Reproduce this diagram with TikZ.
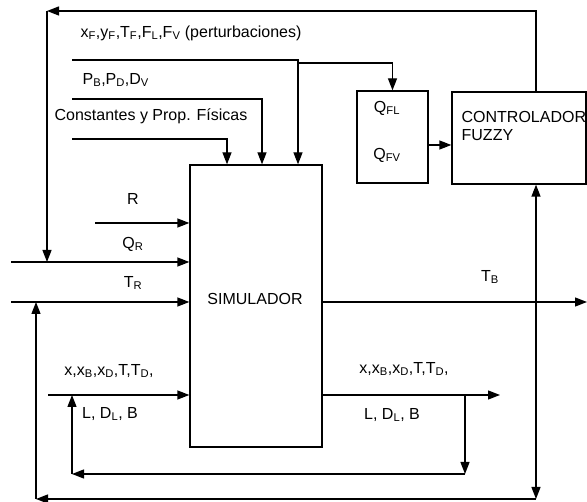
\documentclass[tikz,border=0pt]{standalone}
\usepackage{fontspec}
\setmainfont{Liberation Sans}
\usetikzlibrary{arrows.meta,positioning}
\tikzset{
  blk/.style={draw, line width=1.3pt, inner sep=0pt},
  lbl/.style={inner sep=0pt, font=\fontsize{16}{18}\selectfont},
  flow/.style={line width=1.3pt, -{Triangle[length=12pt,width=9pt]}},
}
\begin{document}
\begin{tikzpicture}[x=1pt, y=-1pt, line width=1.3pt]
\useasboundingbox (0,0) rectangle (587,502);

\node[blk, minimum width=132pt, minimum height=282pt] (sim) at (256,306) {};
\node[blk, minimum width=71pt, minimum height=92pt] (qf) at (392.5,137) {};
\node[blk, minimum width=134pt, minimum height=92pt] (ctrl) at (519,138) {};

\coordinate (fb1) at (47,11);
\coordinate (fb2) at (536,11);
\coordinate (pert) at (72,60);
\coordinate (p1) at (298,60);
\coordinate (p2) at (298,63);
\coordinate (pd) at (72,99);
\coordinate (d1) at (262,99);
\coordinate (cte) at (72,139);
\coordinate (c1) at (227,139);
\coordinate (r) at (95,223);
\coordinate (qr) at (11,262);
\coordinate (tr) at (11,302);
\coordinate (tb) at (587,302);
\coordinate (v) at (536,302);
\coordinate (fb3) at (536,499);
\coordinate (fb4) at (36,499);
\coordinate (qc) at (440,145);
\coordinate (xin) at (48,395);
\coordinate (xout) at (500,395);
\coordinate (rl) at (465,395);
\coordinate (rb) at (465,474);
\coordinate (lb) at (72,474);
\coordinate (lt) at (72,395);

\draw[flow] (fb2 |- ctrl.north) -- (fb2) -- (fb1);
\draw[flow] (fb1) -- (fb1 |- qr);

\draw[flow] (pert) -- (p1) -- (p1 |- sim.north);
\draw[flow] (p2) -| (qf.north);
\draw[flow] (pd) -- (d1) -- (d1 |- sim.north);
\draw[flow] (cte) -- (c1) -- (c1 |- sim.north);

\draw[flow] (r) -- (r -| sim.west);
\draw[flow] (qr) -- (qr -| sim.west);
\draw[flow] (tr) -- (tr -| sim.west);

\draw[flow] (qf.east |- qc) -- (ctrl.west |- qc);

\draw[flow] (sim.east |- tb) -- (tb);
\draw[flow] (v) -- (v |- ctrl.south);
\draw[flow] (v) -- (fb3);
\draw[flow] (fb3) -- (fb4);
\draw[flow] (fb4) -- (fb4 |- tr);

\draw[flow] (xin) -- (xin -| sim.west);
\draw[flow] (sim.east |- xout) -- (xout);
\draw[flow] (rl) -- (rb);
\draw[flow] (rb) -- (lb);
\draw[flow] (lb) -- (lt);

\node[lbl, anchor=west] (lpert) at (80,33) {x\textsubscript{F},y\textsubscript{F},T\textsubscript{F},F\textsubscript{L},F\textsubscript{V} (perturbaciones)};
\node[lbl, anchor=west] (lpd) at (82,80) {P\textsubscript{B},P\textsubscript{D},D\textsubscript{V}};
\node[lbl, anchor=west] (lcte) at (54,116) {Constantes y Prop. Físicas};
\node[lbl] (lr) at (133,199) {R};
\node[lbl] (lqr) at (133,244) {Q\textsubscript{R}};
\node[lbl] (ltr) at (133,283) {T\textsubscript{R}};
\node[lbl] (lsim) at (255,299) {SIMULADOR};
\node[lbl] (ltb) at (490,277) {T\textsubscript{B}};
\node[lbl] (lqfl) at (387,108) {Q\textsubscript{FL}};
\node[lbl] (lqfv) at (387,155) {Q\textsubscript{FV}};
\node[lbl, anchor=west, align=left] (lctrl) at (461,126) {CONTROLADOR\\FUZZY};
\node[lbl] (lxin) at (109,371) {x,x\textsubscript{B},x\textsubscript{D},T,T\textsubscript{D},};
\node[lbl] (lxin2) at (110,414) {L, D\textsubscript{L}, B};
\node[lbl] (lxout) at (404,369) {x,x\textsubscript{B},x\textsubscript{D},T,T\textsubscript{D},};
\node[lbl] (lxout2) at (392,415) {L, D\textsubscript{L}, B};

\end{tikzpicture}
\end{document}
